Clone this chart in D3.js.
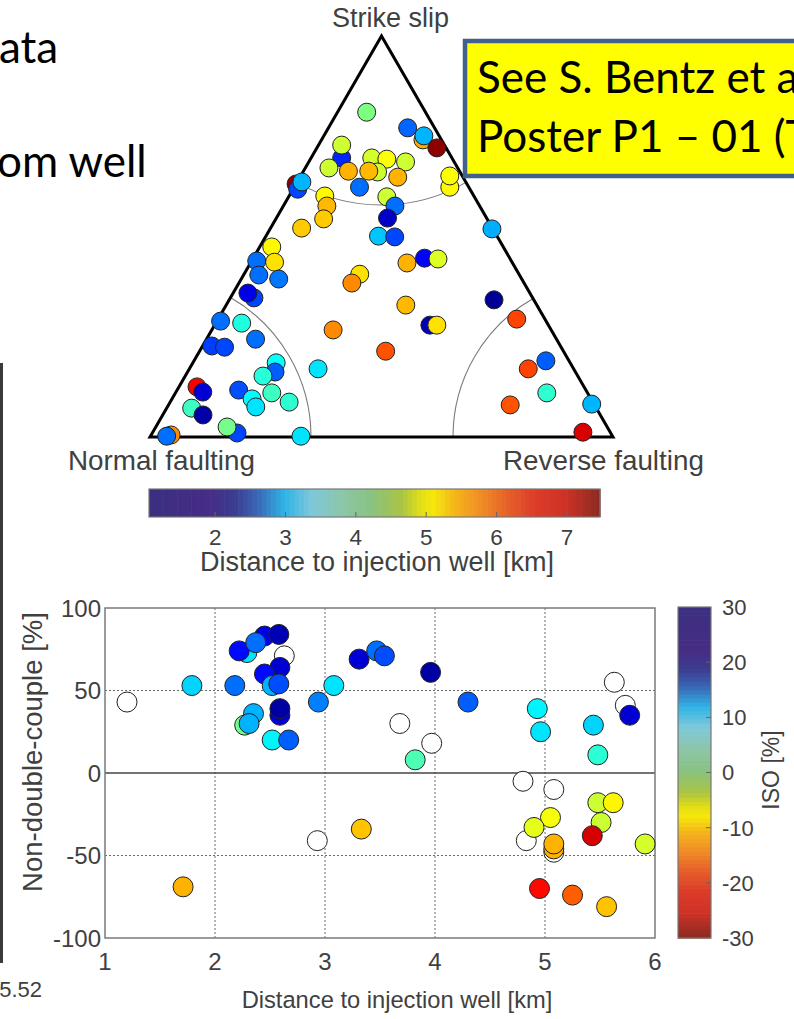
<!DOCTYPE html>
<html>
<head>
<meta charset="utf-8">
<script src="https://cdn.jsdelivr.net/npm/d3@7"></script>
<style>
  html, body { margin: 0; padding: 0; background: #fff; overflow: hidden; }
  svg { display: block; }
</style>
</head>
<body>
<svg id="chart" width="794" height="1019"></svg>
<script>
// ---------- Ternary (Frohlich-type) diagram: % strike-slip, % reverse, distance [km] ----------
const triStrike = [81.0, 77.1, 74.1, 75.1, 72.1, 69.6, 72.8, 67.1, 66.3, 69.6, 69.3, 68.6, 66.1, 66.3, 64.8, 62.3,
  62.3, 65.1, 63.1, 61.8, 63.6, 60.1, 57.6, 54.4, 59.9, 57.6, 54.6, 50.1, 49.9, 52.1, 47.4, 43.6, 43.9, 40.4, 39.4,
  34.7, 35.9, 43.4, 44.6, 44.4, 40.6, 38.4, 32.9, 27.9, 27.9, 26.7, 21.4, 28.9, 28.4, 24.4, 22.7, 22.4, 17.0, 18.5,
  16.2, 15.2, 12.5, 11.2, 11.7, 9.5, 7.5, 11.0, 8.7, 7.2, 5.5, 1.0, 2.5, 0.5, 0.2, 0.2, 51.9, 34.2, 29.4, 19.0, 17.0,
  11.0, 8.0, 8.2, 1.2];
const triReverse = [6.3, 17.1, 21.9, 21.6, 25.9, 6.6, 5.0, 5.1, 9.7, 13.1, 16.5, 20.9, 16.1, 14.1, 21.1, 14.1,
  33.6, 32.2, 0.0, 1.0, 1.0, 7.7, 9.4, 10.3, 21.2, 24.1, 24.0, 24.3, 27.9, 6.7, 2.6, 5.1, 1.1, 3.3, 8.1,
  5.1, 3.2, 33.8, 37.0, 40.0, 25.0, 24.4, 38.8, 46.5, 48.0, 26.2, 40.2, 0.8, 5.6, 10.6, 2.0, 4.9, 27.8, 18.0,
  18.9, 16.8, 3.9, 5.8, 13.3, 17.3, 19.1, 20.8, 25.7, 5.4, 8.7, 18.3, 15.4, 4.3, 3.5, 32.5, 47.9, 57.2, 64.5, 76.0, 73.2,
  80.2, 73.8, 91.3, 92.9];
const triDistance = [4.25, 2.5, 5.6, 3.0, 7.4, 2.1, 4.75, 4.75, 5.55, 4.8, 5.05, 4.75, 4.75, 5.5, 5.55, 2.55,
  5.1, 5.05, 7.4, 2.3, 3.0, 5.1, 5.5, 5.4, 4.75, 2.55, 1.5, 3.1, 2.3, 5.4, 5.1, 5.25, 2.55, 2.55, 2.6,
  2.3, 1.7, 5.55, 1.85, 4.85, 5.25, 5.8, 5.5, 1.4, 5.25, 5.8, 6.15, 2.55, 3.65, 2.55, 2.25, 2.3, 3.3, 3.5,
  2.45, 3.7, 6.7, 1.6, 2.35, 3.45, 3.3, 3.85, 3.75, 3.85, 1.3, 2.3, 4.2, 5.8, 2.55, 3.3, 2.95, 1.2, 6.25, 2.45, 6.25,
  3.75, 6.15, 3.0, 6.9];
const triCorners = ["Normal faulting", "Strike slip", "Reverse faulting"];

// ---------- Distance colour bar ----------
const distDomain = [1.06, 7.47];
const distTicks = [2, 3, 4, 5, 6, 7];
const distTitle = "Distance to injection well [km]";

// ---------- Non-double-couple vs distance, coloured by ISO ----------
const evDistance = [1.20, 1.79, 2.18, 2.29, 2.22, 2.45, 2.58, 2.37, 2.63, 2.59, 2.45, 2.52, 2.58, 2.59, 2.59,
  2.35, 2.27, 2.31, 2.52, 2.67, 2.94, 3.08, 3.31, 3.47, 3.54, 3.68, 3.96, 4.30, 3.97, 3.82, 4.93, 4.96, 5.63, 5.73,
  5.77, 5.44, 5.48, 4.80, 5.08, 5.48, 5.62, 5.05, 4.83, 4.90, 5.51, 5.43, 5.08, 5.08, 5.08, 5.91, 4.95, 5.25, 5.56,
  2.93, 3.33, 1.71];
const evNDC = [43, 53, 53, 73, 74, 83, 84, 79, 71, 64, 60, 53, 54, 35, 39, 36, 29, 30, 20, 20, 43, 53, 69, 74, 71,
  30, 61, 43, 18, 8, 39, 25, 55, 41, 35, 29, 11, -5, -10, -18, -18, -27, -41, -33, -30, -38, -48, -46, -43, -43,
  -70, -74, -81, -41, -34, -69];
const evISO = [null, 10, 16, 9, 22, 24, 27, 16, null, 25, 22, 12, 18, 25, 28, 12, 1, 12, 8, 17, 15, 9, 25, 16, 18,
  null, 28, 17, null, 3, 8, 9, null, null, 25, 10, 5, null, null, -4.5, -8, -7, null, -6, -4.5, -25, null, -12, -12,
  -5, -22, -17, -11, null, -11, -12];
const xTicks = [1, 2, 3, 4, 5, 6];
const yTicks = [100, 50, 0, -50, -100];
const isoTicks = [30, 20, 10, 0, -10, -20, -30];
const xTitle = "Distance to injection well [km]";
const yTitle = "Non-double-couple [%]";
const isoTitle = "ISO [%]";

// ---------- Slide text ----------
const slideLines = ["ata", "om well"];
const noteLines = ["See S. Bentz et al.", "Poster P1 \u2013 01 (T"];
const sideLabel = "5.52";

// ---------- Colour helpers ----------
// jet colormap used for the markers
function jet(t) {
  t = Math.max(0, Math.min(1, t));
  const c = v => Math.round(255 * Math.max(0, Math.min(1, v)));
  return d3.rgb(c(1.5 - Math.abs(4 * t - 3)), c(1.5 - Math.abs(4 * t - 2)), c(1.5 - Math.abs(4 * t - 1))).formatHex();
}
// softer palette shown in the colour bars
const barStops = [0, 0.13, 0.19, 0.24, 0.30, 0.36, 0.43, 0.49, 0.56, 0.60, 0.63, 0.68, 0.74, 0.80, 0.86, 0.92, 1];
const barColors = ["#3b2f80", "#462d85", "#3b3d90", "#3a66b6", "#2fb3e6", "#7dc8da", "#8dc6a8", "#88c283",
  "#a9c444", "#e0dd18", "#f6e70b", "#f5b41b", "#ef8a26", "#e55d2a", "#dc3b28", "#cf3226", "#8b2a22"];
const barColor = d3.scaleLinear().domain(barStops).range(barColors).interpolate(d3.interpolateRgb);

const svg = d3.select("#chart");
const FONT = "'Liberation Sans', Arial, sans-serif";
const SLIDE_FONT = "Lato, 'Open Sans', sans-serif";
const TXT = "#404040";

// ---------- Slide fragments ----------
svg.append("text").attr("x", -1).attr("y", 63).attr("font-family", SLIDE_FONT).attr("font-size", 44)
  .attr("fill", "#000").text(slideLines[0]);
svg.append("text").attr("x", -3).attr("y", 177).attr("font-family", SLIDE_FONT).attr("font-size", 44)
  .attr("fill", "#000").text(slideLines[1]);

svg.append("rect").attr("x", 0).attr("y", 363).attr("width", 3).attr("height", 600).attr("fill", "#3a3a3a");
svg.append("text").attr("x", 42).attr("y", 997).attr("text-anchor", "end").attr("font-family", FONT)
  .attr("font-size", 22).attr("fill", TXT).text(sideLabel);

// ---------- Ternary diagram ----------
const triLeft = 150, triRight = 613, triBase = 437;
const triHeight = (triRight - triLeft) * Math.sqrt(3) / 2;
const tx = d3.scaleLinear().domain([0, 100]).range([triLeft, triRight]);
const ty = d3.scaleLinear().domain([0, 100]).range([triBase, triBase - triHeight]);
const project = (s, r) => [tx(r + s / 2), ty(s)];

const vN = project(0, 0), vS = project(100, 0), vR = project(0, 100);

// region boundaries
const gArc = svg.append("g").attr("fill", "none").attr("stroke", "#7a7a7a").attr("stroke-width", 1.1);
function arcPath(c, rad, a0, a1) {
  const p = d3.path();
  p.arc(c[0], c[1], rad, a0 * Math.PI / 180, a1 * Math.PI / 180);
  return p.toString();
}
gArc.append("path").attr("d", arcPath(vS, 169, 60, 120));
gArc.append("path").attr("d", arcPath(vN, 161, -60, 0));
gArc.append("path").attr("d", arcPath(vR, 160, 180, 240));

svg.append("path")
  .attr("d", d3.line()([vN, vS, vR, vN]) + "Z")
  .attr("fill", "none").attr("stroke", "#000").attr("stroke-width", 3).attr("stroke-linejoin", "miter");

const distT = d => (d - distDomain[0]) / (distDomain[1] - distDomain[0]);
svg.append("g").selectAll("circle")
  .data(d3.range(triStrike.length))
  .join("circle")
  .attr("cx", i => project(triStrike[i], triReverse[i])[0])
  .attr("cy", i => project(triStrike[i], triReverse[i])[1])
  .attr("r", 9)
  .attr("fill", i => jet(distT(triDistance[i])))
  .attr("stroke", "#222").attr("stroke-width", 1);

svg.append("text").attr("x", vS[0] + 9).attr("y", 27).attr("text-anchor", "middle")
  .attr("font-family", FONT).attr("font-size", 27).attr("fill", TXT).text(triCorners[1]);
svg.append("text").attr("x", 68).attr("y", 470)
  .attr("font-family", FONT).attr("font-size", 27.8).attr("fill", TXT).text(triCorners[0]);
svg.append("text").attr("x", 503).attr("y", 470)
  .attr("font-family", FONT).attr("font-size", 27.8).attr("fill", TXT).text(triCorners[2]);

// ---------- Distance colour bar ----------
const cbX = d3.scaleLinear().domain(distDomain).range([149, 600]);
const cbTop = 489, cbH = 28;
const nSteps = 96;
const stepVals = d3.range(nSteps).map(k => distDomain[0] + (distDomain[1] - distDomain[0]) * k / nSteps);
const stepW = (distDomain[1] - distDomain[0]) / nSteps;
svg.append("g").selectAll("rect").data(stepVals).join("rect")
  .attr("x", v => cbX(v)).attr("y", cbTop)
  .attr("width", v => cbX(v + stepW) - cbX(v) + 0.6).attr("height", cbH)
  .attr("fill", v => barColor(distT(v + stepW / 2)));
svg.append("rect").attr("x", cbX(distDomain[0])).attr("y", cbTop)
  .attr("width", cbX(distDomain[1]) - cbX(distDomain[0])).attr("height", cbH)
  .attr("fill", "none").attr("stroke", "#777").attr("stroke-width", 1.2);
svg.append("g").selectAll("line").data(distTicks).join("line")
  .attr("x1", d => cbX(d)).attr("x2", d => cbX(d))
  .attr("y1", cbTop + cbH).attr("y2", cbTop + cbH - 5)
  .attr("stroke", "#666").attr("stroke-width", 1);
svg.append("g").selectAll("text").data(distTicks).join("text")
  .attr("x", d => cbX(d)).attr("y", 545).attr("text-anchor", "middle")
  .attr("font-family", FONT).attr("font-size", 22.5).attr("fill", TXT).text(d => d);
svg.append("text").attr("x", 377).attr("y", 571).attr("text-anchor", "middle")
  .attr("font-family", FONT).attr("font-size", 27).attr("fill", TXT).text(distTitle);

// ---------- Scatter: NDC vs distance ----------
const x = d3.scaleLinear().domain([1, 6]).range([105, 655]);
const y = d3.scaleLinear().domain([-100, 100]).range([938, 608]);

const gGrid = svg.append("g").attr("stroke", "#6a6a6a").attr("stroke-width", 1).attr("stroke-dasharray", "2,2");
gGrid.selectAll("line.gx").data(xTicks.slice(1, -1)).join("line").attr("class", "gx")
  .attr("x1", d => x(d)).attr("x2", d => x(d)).attr("y1", y(100)).attr("y2", y(-100));
gGrid.selectAll("line.gy").data([50, -50]).join("line").attr("class", "gy")
  .attr("x1", x(1)).attr("x2", x(6)).attr("y1", d => y(d)).attr("y2", d => y(d));
svg.append("line").attr("x1", x(1)).attr("x2", x(6)).attr("y1", y(0)).attr("y2", y(0))
  .attr("stroke", "#444").attr("stroke-width", 1.4);
svg.append("rect").attr("x", x(1)).attr("y", y(100)).attr("width", x(6) - x(1)).attr("height", y(-100) - y(100))
  .attr("fill", "none").attr("stroke", "#7a7a7a").attr("stroke-width", 1.5);

const isoT = v => (30 - v) / 60;
svg.append("g").selectAll("circle")
  .data(d3.range(evDistance.length))
  .join("circle")
  .attr("cx", i => x(evDistance[i]))
  .attr("cy", i => y(evNDC[i]))
  .attr("r", 10)
  .attr("fill", i => evISO[i] === null ? "#fff" : jet(isoT(evISO[i])))
  .attr("stroke", "#222").attr("stroke-width", 1);

svg.append("g").selectAll("text").data(yTicks).join("text")
  .attr("x", 101).attr("y", d => y(d)).attr("dy", "0.36em").attr("text-anchor", "end")
  .attr("font-family", FONT).attr("font-size", 24).attr("fill", TXT).text(d => d);
svg.append("g").selectAll("text").data(xTicks).join("text")
  .attr("x", d => x(d)).attr("y", 970).attr("text-anchor", "middle")
  .attr("font-family", FONT).attr("font-size", 24).attr("fill", TXT).text(d => d);
svg.append("text").attr("x", 397).attr("y", 1008).attr("text-anchor", "middle")
  .attr("font-family", FONT).attr("font-size", 23.7).attr("fill", TXT).text(xTitle);
svg.append("text").attr("transform", "translate(42,752) rotate(-90)").attr("text-anchor", "middle")
  .attr("font-family", FONT).attr("font-size", 27.5).attr("fill", TXT).text(yTitle);

// ---------- ISO colour bar ----------
const isoY = d3.scaleLinear().domain([-30, 30]).range([938, 607]);
const isoSteps = d3.range(80).map(k => -30 + 60 * k / 80);
const isoW = 60 / 80;
svg.append("g").selectAll("rect").data(isoSteps).join("rect")
  .attr("x", 678).attr("width", 33)
  .attr("y", v => isoY(v + isoW)).attr("height", v => isoY(v) - isoY(v + isoW) + 0.6)
  .attr("fill", v => barColor(isoT(v + isoW / 2)));
svg.append("rect").attr("x", 678).attr("y", isoY(30)).attr("width", 33).attr("height", isoY(-30) - isoY(30))
  .attr("fill", "none").attr("stroke", "#777").attr("stroke-width", 1.2);
svg.append("g").selectAll("line").data(isoTicks.slice(1, -1)).join("line")
  .attr("x1", 711).attr("x2", 706).attr("y1", d => isoY(d)).attr("y2", d => isoY(d))
  .attr("stroke", "#666").attr("stroke-width", 1);
svg.append("g").selectAll("text").data(isoTicks).join("text")
  .attr("x", 722).attr("y", d => isoY(d)).attr("dy", "0.36em")
  .attr("font-family", FONT).attr("font-size", 22).attr("fill", TXT).text(d => d);
svg.append("text").attr("transform", "translate(779,770) rotate(-90)").attr("text-anchor", "middle")
  .attr("font-family", FONT).attr("font-size", 23).attr("fill", TXT).text(isoTitle);

// ---------- Poster note ----------
svg.append("rect").attr("x", 465).attr("y", 41).attr("width", 345).attr("height", 135)
  .attr("fill", "#ffff00").attr("stroke", "#41608c").attr("stroke-width", 4.5);
svg.append("text").attr("x", 477).attr("y", 93).attr("font-family", SLIDE_FONT).attr("font-size", 44)
  .attr("fill", "#000").text(noteLines[0]);
svg.append("text").attr("x", 477).attr("y", 152).attr("font-family", SLIDE_FONT).attr("font-size", 44)
  .attr("fill", "#000").text(noteLines[1]);
</script>
</body>
</html>
